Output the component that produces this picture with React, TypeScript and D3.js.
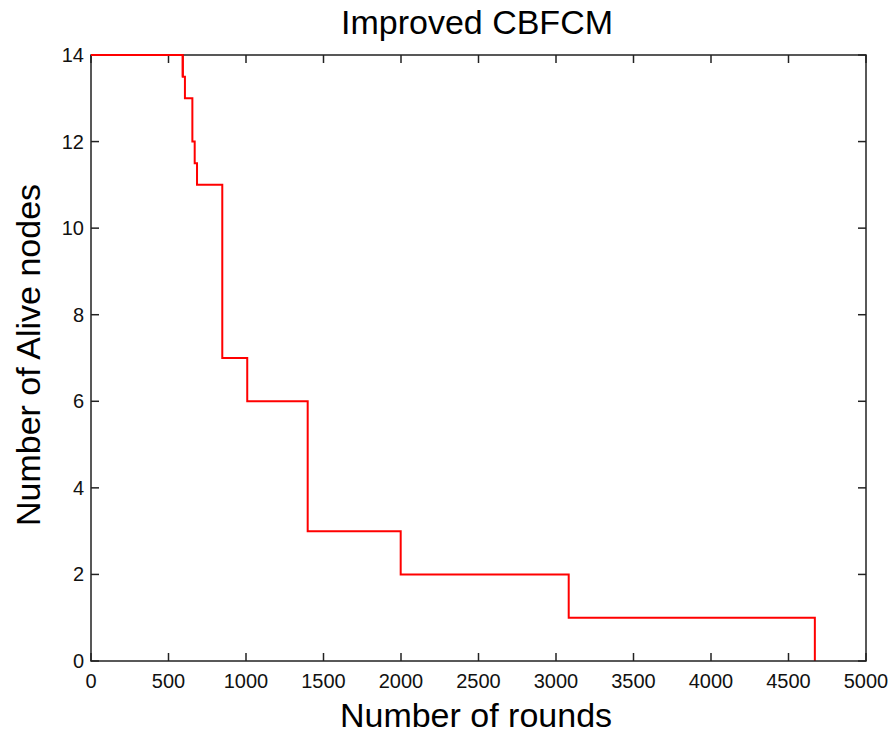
import React from "react";
import * as d3 from "d3";

const rounds = [0, 592, 606, 654, 669, 684, 847, 1008, 1398, 1998, 3082, 4670];
const alive = [14, 13.5, 13, 12, 11.5, 11, 7, 6, 3, 2, 1, 0];
const xTicks = [0, 500, 1000, 1500, 2000, 2500, 3000, 3500, 4000, 4500, 5000];
const yTicks = [0, 2, 4, 6, 8, 10, 12, 14];

const W = 893;
const H = 733;
const left = 91;
const right = 866;
const top = 55;
const bottom = 661;
const FONT = "'Liberation Sans', Arial, sans-serif";

export default function App() {
  const x = d3.scaleLinear().domain([0, 5000]).range([left, right]);
  const y = d3.scaleLinear().domain([0, 14]).range([bottom, top]);
  const pts: [number, number][] = rounds.map((r, i) => [r, alive[i]]);
  const line = d3
    .line<[number, number]>()
    .x((d) => x(d[0]))
    .y((d) => y(d[1]))
    .curve(d3.curveStepAfter);
  const tl = 8;
  const axisColor = "#222";
  return (
    <svg
      width={W}
      height={H}
      style={{ position: "absolute", left: 0, top: 0, background: "#fff" }}
      fontFamily={FONT}
    >
      <rect x={0} y={0} width={W} height={H} fill="#fff" />
      <path d={line(pts) || ""} fill="none" stroke="#ff0000" strokeWidth={2} />
      {xTicks.map((t) => (
        <g key={"x" + t}>
          <line x1={x(t)} x2={x(t)} y1={bottom} y2={bottom - tl} stroke={axisColor} strokeWidth={1.5} />
          <line x1={x(t)} x2={x(t)} y1={top} y2={top + tl} stroke={axisColor} strokeWidth={1.5} />
          <text x={x(t)} y={688} fontSize={20} textAnchor="middle" fill="#111">
            {t}
          </text>
        </g>
      ))}
      {yTicks.map((t) => (
        <g key={"y" + t}>
          <line x1={left} x2={left + tl} y1={y(t)} y2={y(t)} stroke={axisColor} strokeWidth={1.5} />
          <line x1={right} x2={right - tl} y1={y(t)} y2={y(t)} stroke={axisColor} strokeWidth={1.5} />
          <text x={84} y={y(t) + 7} fontSize={20} textAnchor="end" fill="#111">
            {t}
          </text>
        </g>
      ))}
      <rect
        x={left}
        y={top}
        width={right - left}
        height={bottom - top}
        fill="none"
        stroke={axisColor}
        strokeWidth={1.5}
      />
      <path d={line(pts.slice(0, 2)) || ""} fill="none" stroke="#ff0000" strokeWidth={2} />
      <text x={477} y={33.5} fontSize={34} textAnchor="middle" fill="#000">
        Improved CBFCM
      </text>
      <text x={476} y={727} fontSize={34} textAnchor="middle" fill="#000">
        Number of rounds
      </text>
      <text
        transform={`translate(40, ${(top + bottom) / 2 - 3}) rotate(-90)`}
        fontSize={34}
        textAnchor="middle"
        fill="#000"
      >
        Number of Alive nodes
      </text>
    </svg>
  );
}
